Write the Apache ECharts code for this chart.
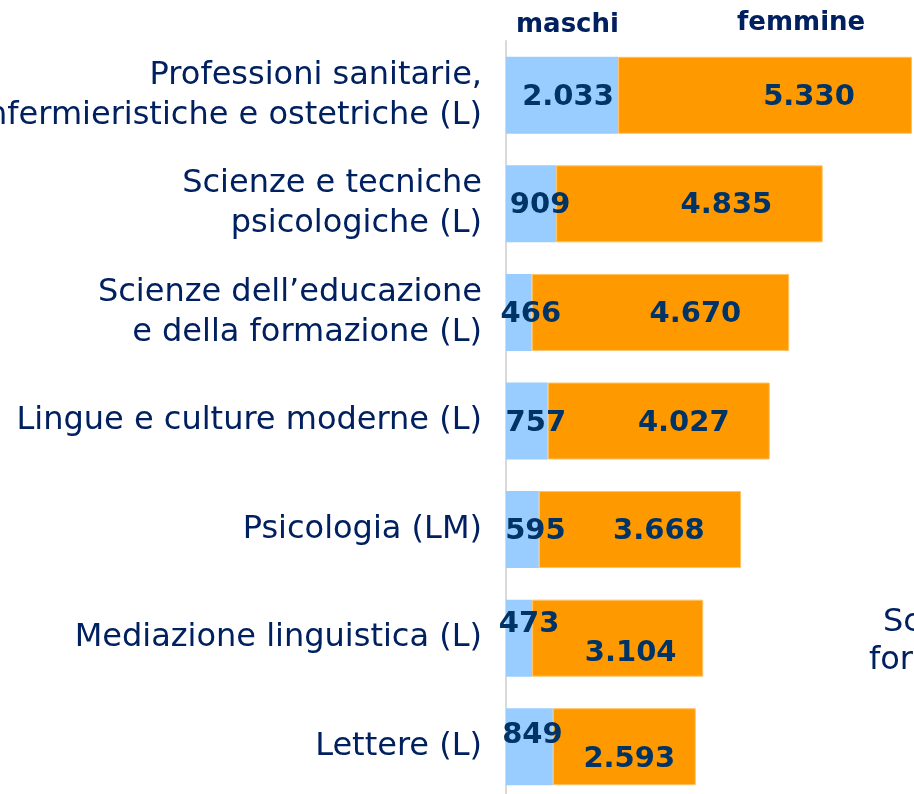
<!DOCTYPE html>
<html>
<head>
<meta charset="utf-8">
<script src="https://cdn.jsdelivr.net/npm/echarts@6/dist/echarts.min.js"></script>
<style>
html,body{margin:0;padding:0;background:#fff;}
#c{width:914px;height:794px;}
</style>
</head>
<body>
<div id="c"></div>
<script>
// Categories (top to bottom)
const categories = [
  "Professioni sanitarie,\ninfermieristiche e ostetriche (L)",
  "Scienze e tecniche\npsicologiche (L)",
  "Scienze dell\u2019educazione\ne della formazione (L)",
  "Lingue e culture moderne (L)",
  "Psicologia (LM)",
  "Mediazione linguistica (L)",
  "Lettere (L)"
];
const maschi = [2033, 909, 466, 757, 595, 473, 849];
const femmine = [5330, 4835, 4670, 4027, 3668, 3104, 2593];
const seriesNames = ["maschi", "femmine"];

// label nudges (layout only)
const maschiNudge = [[6,0],[9,0],[12,0],[9,0],[13,0],[10,-16],[3,-13]];
const femmineNudge = [[44,0],[37,0],[35,0],[25,0],[19,0],[13,13],[5,11]];

function fmt(v){ return v.toLocaleString('de-DE'); }

const labelBase = {
  show: true,
  position: 'inside',
  fontFamily: 'DejaVu Sans',
  fontWeight: 'bold',
  fontSize: 29,
  color: '#003366',
  formatter: p => fmt(p.value)
};

function build(values, nudge){
  return values.map((v,i)=>({value:v, label:{offset:[nudge[i][0], nudge[i][1] + 2]}}));
}

const chart = echarts.init(document.getElementById('c'), null, {renderer:'canvas'});
chart.setOption({
  animation: false,
  backgroundColor: '#ffffff',
  grid: {left: 506, right: 0, top: 41, bottom: -7, containLabel: false, outerBoundsMode: 'none'},
  xAxis: {
    type: 'value', min: 0, max: 7400,
    show: false
  },
  yAxis: {
    type: 'category', inverse: true, data: categories,
    axisLine: {show: true, lineStyle: {color: '#d9d9d9', width: 2}},
    axisTick: {show: false},
    axisLabel: {
      fontFamily: 'DejaVu Sans', fontSize: 32, color: '#002060',
      lineHeight: 40, margin: 24, align: 'right', padding: [16, 0, 0, 0]
    }
  },
  series: [
    {
      name: seriesNames[0], type: 'bar', stack: 'tot', barWidth: 77,
      itemStyle: {color: '#99ccff'},
      label: labelBase,
      data: build(maschi, maschiNudge)
    },
    {
      name: seriesNames[1], type: 'bar', stack: 'tot', barWidth: 77,
      itemStyle: {color: '#ff9900', borderColor: '#ffc266', borderWidth: 1},
      label: labelBase,
      data: build(femmine, femmineNudge)
    }
  ],
  graphic: [
    {type:'text', left: 516, top: 12, style:{text: seriesNames[0], font:'bold 26px "DejaVu Sans"', fill:'#002060'}},
    {type:'text', left: 737, top: 10, style:{text: seriesNames[1], font:'bold 26px "DejaVu Sans"', fill:'#002060'}},
    {type:'text', left: 883, top: 607, style:{text: 'Scienze della', font:'32px "DejaVu Sans"', fill:'#002060'}},
    {type:'text', left: 869, top: 645, style:{text: 'formazione primaria', font:'32px "DejaVu Sans"', fill:'#002060'}}
  ]
});
</script>
</body>
</html>
